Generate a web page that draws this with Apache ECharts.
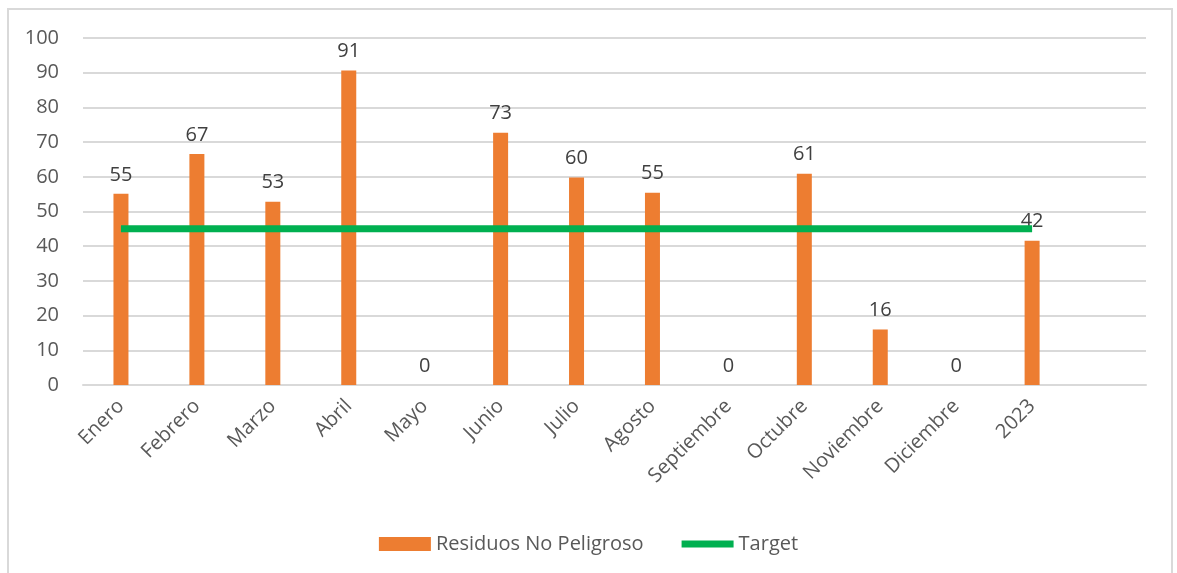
<!DOCTYPE html>
<html><head><meta charset="utf-8">
<script src="https://cdn.jsdelivr.net/npm/echarts@6/dist/echarts.min.js"></script>
<style>html,body{margin:0;padding:0;background:#fff}#frame{position:absolute;left:7px;top:8px;width:1166px;height:565px;border:2px solid #d9d9d9;border-bottom:none;box-sizing:border-box}#c{position:absolute;left:0;top:0;width:1177px;height:573px}</style>
</head><body><div id="frame"></div><div id="c"></div>
<script>
const categories = ['Enero','Febrero','Marzo','Abril','Mayo','Junio','Julio','Agosto','Septiembre','Octubre','Noviembre','Diciembre','2023',''];
const residuos = [55.1, 66.6, 52.8, 90.6, 0, 72.7, 59.8, 55.4, 0, 60.9, 16, 0, 41.6, null];
const target = [45,45,45,45,45,45,45,45,45,45,45,45,45,null];
const yTicks = [0,10,20,30,40,50,60,70,80,90,100];
const font = "'Open Sans', 'Noto Sans', sans-serif";
const chart = echarts.init(document.getElementById('c'));
chart.setOption({
  animation:false,
  textStyle:{fontFamily:font},
  grid:{left:83,right:31,top:38,bottom:188,containLabel:false},
  legend:{top:529,left:'center',itemWidth:52,itemHeight:14,itemGap:38,symbolKeepAspect:true,
    textStyle:{fontSize:20,color:'#595959',fontFamily:font},
    data:[{name:'Residuos No Peligroso',icon:'rect'},{name:'Target',icon:'path://M0,0 H52 V7 H0 Z',itemStyle:{color:'#00B050'}}]},
  xAxis:{type:'category',data:categories,boundaryGap:true,
    axisLine:{show:true,lineStyle:{color:'#d9d9d9',width:2}},axisTick:{show:false},
    axisLabel:{rotate:45,fontSize:20,color:'#595959',margin:18,interval:0,fontFamily:font}},
  yAxis:{type:'value',min:0,max:100,interval:10,
    axisLine:{show:false},axisTick:{show:false},
    splitLine:{lineStyle:{color:'#d9d9d9',width:2}},
    axisLabel:{fontSize:20,color:'#595959',margin:24,fontFamily:font,
      formatter:v=>yTicks.includes(v)?String(v):''}},
  series:[
    {name:'Residuos No Peligroso',type:'bar',data:residuos,barWidth:15,z:2,
      itemStyle:{color:'#ED7D31'},
      label:{show:true,position:'top',distance:9,fontSize:20,color:'#404040',fontFamily:font,
        formatter:p=>p.value==null?'':String(Math.round(p.value))}},
    {name:'Target',type:'line',data:target,symbol:'none',z:3,
      lineStyle:{color:'#00B050',width:7,cap:'butt'},itemStyle:{color:'#00B050'}}
  ]
});
</script></body></html>
